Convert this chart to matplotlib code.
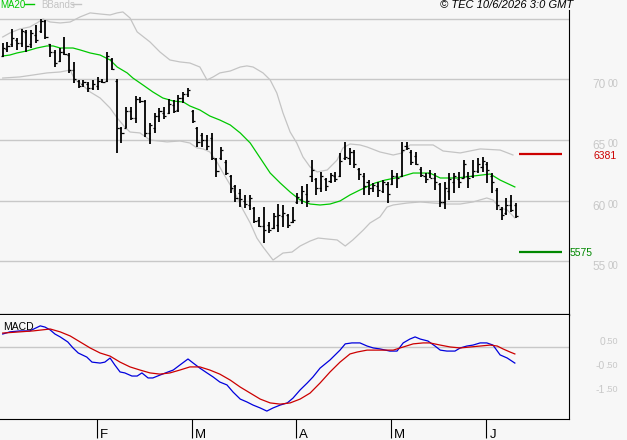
import numpy as np
import matplotlib
matplotlib.use("Agg")
import matplotlib.pyplot as plt
from matplotlib.lines import Line2D
from matplotlib.transforms import blended_transform_factory, offset_copy

plt.rcParams['font.family'] = ['Liberation Sans', 'DejaVu Sans']

# ---------------- data (daily OHLC, Jan -> Jun 2026) ----------------
opens = [7190, 7250, 7290, 7330, 7300, 7390, 7290, 7370, 7400, 7480,
         7290, 7230, 7150, 7230, 7200, 7080, 6990, 6960, 6960, 6930,
         6950, 6990, 6990, 7170, 6990, 6600, 6600, 6740, 6680, 6840,
         6820, 6560, 6600, 6700, 6720, 6720, 6790, 6750, 6850, 6880,
         6740, 6600, 6540, 6500, 6520, 6340, 6350, 6320, 6200, 6120,
         6060, 6000, 5960, 5940, 5840, 5790, 5800, 5770, 5800, 5870,
         5880, 5820, 5990, 6010, 6050, 6200, 6180, 6100, 6180, 6160,
         6200, 6200, 6350, 6350, 6400, 6260, 6200, 6150, 6100, 6120,
         6080, 6140, 6140, 6200, 6200, 6450, 6400, 6370, 6260, 6200,
         6230, 6190, 6140, 5990, 6080, 6150, 6180, 6190, 6200, 6200,
         6240, 6280, 6300, 6200, 6090, 5930, 5900, 5960, 5960]
highs = [7302, 7310, 7417, 7343, 7417, 7409, 7409, 7450, 7500, 7492,
         7293, 7244, 7260, 7351, 7219, 7145, 6996, 6996, 6979, 6996,
         7021, 7004, 7227, 7178, 7004, 6607, 6773, 6773, 6864, 6855,
         6831, 6641, 6723, 6764, 6773, 6839, 6831, 6872, 6897, 6930,
         6748, 6607, 6558, 6541, 6558, 6351, 6442, 6335, 6211, 6128,
         6095, 6046, 6046, 5946, 5864, 5946, 5822, 5897, 5971, 5963,
         5889, 5946, 6062, 6120, 6136, 6335, 6186, 6236, 6186, 6227,
         6236, 6393, 6484, 6434, 6417, 6269, 6227, 6169, 6145, 6153,
         6169, 6153, 6252, 6227, 6484, 6484, 6417, 6401, 6277, 6227,
         6252, 6227, 6145, 6153, 6227, 6227, 6236, 6335, 6236, 6335,
         6351, 6360, 6318, 6227, 6103, 5946, 6021, 6046, 5979]
lows = [7186, 7227, 7269, 7244, 7269, 7227, 7260, 7302, 7384, 7335,
        7186, 7103, 7145, 7202, 7054, 6971, 6930, 6938, 6897, 6913,
        6913, 6971, 6979, 7078, 6393, 6475, 6599, 6665, 6641, 6806,
        6525, 6467, 6558, 6649, 6674, 6715, 6723, 6731, 6806, 6855,
        6641, 6442, 6442, 6417, 6335, 6194, 6335, 6211, 6062, 5988,
        5946, 5938, 5922, 5814, 5781, 5649, 5732, 5765, 5740, 5781,
        5773, 5814, 5971, 5971, 5946, 6153, 6046, 6070, 6078, 6145,
        6153, 6194, 6335, 6293, 6269, 6169, 6046, 6046, 6070, 6029,
        6062, 5979, 6128, 6103, 6194, 6417, 6293, 6293, 6194, 6145,
        6186, 6087, 5946, 5930, 6004, 6062, 6103, 6186, 6103, 6186,
        6227, 6236, 6145, 6062, 5922, 5839, 5880, 5905, 5856]
closes = [7260, 7280, 7340, 7300, 7400, 7280, 7380, 7330, 7480, 7350,
          7230, 7140, 7230, 7210, 7080, 7000, 6950, 6975, 6930, 6960,
          6990, 6980, 7190, 7090, 6600, 6560, 6740, 6680, 6840, 6820,
          6560, 6620, 6700, 6740, 6700, 6800, 6740, 6850, 6880, 6910,
          6660, 6480, 6500, 6450, 6350, 6240, 6420, 6230, 6100, 6020,
          6010, 5970, 6020, 5830, 5790, 5760, 5760, 5870, 5880, 5900,
          5800, 5840, 6030, 6080, 6000, 6250, 6100, 6200, 6120, 6210,
          6180, 6330, 6360, 6400, 6300, 6220, 6120, 6100, 6130, 6090,
          6150, 6050, 6200, 6190, 6420, 6430, 6320, 6300, 6210, 6180,
          6190, 6150, 5990, 6100, 6180, 6200, 6150, 6300, 6190, 6240,
          6300, 6330, 6250, 6150, 5960, 5880, 5960, 5920, 5870]

# MA20 (bar index, value)
ma20_x = [0, 1.5, 3.0, 5.1, 7.2, 9.3, 10.6, 12.1, 13.5, 14.8, 16.3, 18.4, 20.5,
          22.6, 24.1, 26.2, 27.4, 29.5, 31.6, 33.7, 35.9, 38.0, 39.4, 41.5, 43.6,
          45.7, 47.9, 50.0, 52.1, 54.2, 56.3, 58.4, 60.5, 62.6, 64.7, 66.8, 68.9,
          71.0, 73.1, 75.2, 78.4, 80.5, 83.6, 86.4, 89.9, 92.1, 95.6, 99.0, 102.6,
          104.7, 107.8]
ma20_y = [7194, 7202, 7219, 7236, 7260, 7277, 7277, 7260, 7260, 7260, 7244, 7219, 7202,
          7161, 7103, 7054, 7012, 6955, 6897, 6847, 6822, 6814, 6781, 6748, 6698,
          6665, 6624, 6558, 6475, 6351, 6227, 6145, 6070, 6004, 5971, 5963, 5971,
          5996, 6046, 6087, 6145, 6169, 6194, 6227, 6227, 6186, 6186, 6202, 6219,
          6169, 6112]

# Bollinger upper band
bbu_x = [0, 1.5, 3.6, 5.7, 7.2, 8.5, 10.0, 12.1, 14.2, 16.3, 18.4, 20.5, 22.6, 24.1,
         25.3, 26.8, 28.3, 31.0, 33.1, 35.2, 37.3, 39.4, 41.5, 43.0, 44.3, 45.7,
         47.9, 50.0, 51.4, 52.7, 54.8, 56.3, 57.7, 59.0, 60.5, 61.9, 63.2, 64.7,
         66.2, 68.3, 70.4, 71.6, 73.1, 75.2, 76.7, 79.4, 82.2, 84.1, 85.7, 90.6,
         92.7, 96.3, 100.5, 104.7, 107.4]
bbu_y = [7351, 7384, 7417, 7434, 7467, 7500, 7475, 7467, 7475, 7517, 7550, 7541, 7533, 7550,
         7558, 7508, 7393, 7310, 7227, 7161, 7145, 7136, 7103, 6996, 7021, 7054,
         7070, 7103, 7112, 7103, 7054, 6996, 6888, 6723, 6566, 6475, 6360, 6277,
         6236, 6252, 6335, 6434, 6467, 6459, 6442, 6401, 6376, 6393, 6459, 6459,
         6409, 6393, 6426, 6417, 6376]

# Bollinger lower band
bbl_x = [0, 3.6, 6.4, 9.3, 12.1, 14.2, 15.2, 16.3, 18.4, 20.5, 22.6, 24.1, 25.7, 26.8,
         28.9, 31.0, 34.6, 37.3, 39.4, 40.9, 42.2, 43.6, 45.1, 46.4, 47.9, 49.3,
         50.6, 52.1, 53.5, 54.8, 56.9, 59.0, 60.9, 62.6, 64.7, 66.4, 68.3, 70.4,
         72.1, 73.7, 75.9, 77.3, 79.4, 80.9, 82.2, 85.1, 87.9, 90.6, 93.5, 96.3,
         99.0, 101.9, 103.2, 104.7, 106.2, 107.8]
bbl_y = [7012, 7021, 7037, 7054, 7062, 7078, 6996, 6971, 6897, 6847, 6764, 6682, 6607, 6566,
         6558, 6500, 6484, 6492, 6475, 6434, 6426, 6401, 6318, 6227, 6128, 6029,
         5922, 5814, 5690, 5616, 5508, 5566, 5574, 5624, 5665, 5690, 5682, 5674,
         5624, 5674, 5756, 5814, 5864, 5946, 5963, 5979, 5988, 5979, 5971, 5971,
         5988, 6021, 6004, 5938, 5922, 5856]

# MACD line
macd_x = [0, 1.5, 3.6, 5.7, 7.9, 8.9, 10.0, 11.0, 12.1, 13.7, 14.8, 15.9, 17.7, 18.8,
          20.5, 21.5, 22.6, 23.6, 24.7, 25.7, 27.2, 28.3, 29.3, 30.6, 31.6, 33.1,
          34.8, 35.9, 37.3, 39.0, 40.1, 41.5, 43.0, 44.3, 45.7, 47.2, 48.5, 50.0,
          51.4, 52.7, 54.2, 55.6, 56.9, 58.4, 59.9, 61.1, 62.6, 64.1, 65.3, 66.8,
          68.9, 71.0, 72.1, 73.5, 75.2, 76.7, 78.0, 79.4, 81.5, 83.0, 84.3, 85.7,
          86.8, 87.9, 89.5, 91.0, 92.1, 93.5, 95.2, 96.3, 97.7, 99.0, 100.5, 101.9,
          103.2, 104.7, 106.2, 107.8]
macd_y = [0.54, 0.63, 0.67, 0.67, 0.88, 0.83, 0.71, 0.54, 0.42, 0.21, -0.04, -0.25, -0.42, -0.63,
          -0.67, -0.63, -0.46, -0.75, -1.04, -1.08, -1.21, -1.21, -1.08, -1.29, -1.29, -1.17,
          -1.04, -0.96, -0.75, -0.50, -0.67, -0.88, -1.08, -1.25, -1.46, -1.58, -1.88, -2.17,
          -2.29, -2.42, -2.54, -2.67, -2.54, -2.42, -2.33, -2.13, -1.79, -1.50, -1.25, -0.88,
          -0.54, -0.13, 0.13, 0.17, 0.17, 0.04, -0.04, -0.08, -0.17, -0.17, 0.17, 0.33,
          0.42, 0.33, 0.25, 0.04, -0.13, -0.17, -0.17, -0.04, 0.04, 0.08, 0.17, 0.17,
          0.08, -0.33, -0.46, -0.67]

# Signal line
sig_x = [0, 3.6, 6.4, 10.0, 12.1, 14.2, 16.3, 18.4, 20.5, 22.6, 24.7, 26.8, 28.9, 31.0,
         33.1, 35.2, 37.3, 39.4, 41.5, 43.6, 45.7, 47.9, 50.0, 52.1, 54.2, 56.3,
         58.4, 60.5, 62.6, 64.7, 66.8, 68.9, 71.0, 73.1, 74.6, 76.7, 79.4, 82.2,
         84.3, 86.4, 88.5, 89.9, 92.1, 94.2, 96.3, 98.4, 100.5, 102.6, 104.1, 105.3,
         106.8, 107.8]
sig_y = [0.58, 0.63, 0.67, 0.75, 0.63, 0.46, 0.21, -0.04, -0.25, -0.38, -0.63, -0.83, -0.96, -1.08,
         -1.13, -1.08, -0.96, -0.83, -0.83, -0.96, -1.13, -1.38, -1.67, -1.92, -2.17, -2.33,
         -2.38, -2.33, -2.17, -1.92, -1.50, -1.04, -0.63, -0.29, -0.21, -0.13, -0.13, -0.13,
         0.0, 0.13, 0.17, 0.17, 0.08, 0.0, -0.04, 0.0, 0.04, 0.08, 0.04, -0.08,
         -0.21, -0.29]

price_grid = [5500, 6000, 6500, 7000, 7500]
price_labels = [5500, 6000, 6500, 7000]
macd_grid = [0]
macd_labels = [0.50, -0.50, -1.50]
month_starts = [20, 40, 62, 82, 102]
month_names = ['F', 'M', 'A', 'M', 'J']
levels = [6381, 5575]
level_colors = ['#cc0000', '#008800']
copyright_text = '\u00a9 TEC 10/6/2026 3:0 GMT'

# ---------------- style ----------------
W, H = 627, 440
BG = '#f7f7f7'
GRID = '#c8c8c8'
BAND = '#c4c4c4'
LBL = '#c8c8c8'
GREEN = '#00c800'


def fx(px):
    return px / W


def fy(py):
    return 1 - py / H


fig = plt.figure(figsize=(W / 100, H / 100), dpi=100, facecolor=BG)
ax = fig.add_axes([0, fy(315), fx(569), (315 - 10) / H], facecolor=BG)
ax2 = fig.add_axes([0, fy(419), fx(569), (419 - 315) / H], facecolor=BG)

xlo, xhi = -0.57, 119.2
ax.set_xlim(xlo, xhi)
ax2.set_xlim(xlo, xhi)
ax.set_ylim(5054, 7574)
ax2.set_ylim(-3.0, 1.333)

# grid
for g in price_grid:
    ax.axhline(g, color=GRID, lw=1.0, zorder=1)
for g in macd_grid:
    ax2.axhline(g, color=GRID, lw=1.0, zorder=1)

# bands & MA
ax.plot(bbu_x, bbu_y, color=BAND, lw=0.9, zorder=2)
ax.plot(bbl_x, bbl_y, color=BAND, lw=0.9, zorder=2)
ax.plot(ma20_x, ma20_y, color=GREEN, lw=0.9, zorder=3)

# OHLC bars
xs = np.arange(len(closes))
tick = 0.45
ax.vlines(xs, lows, highs, color='black', lw=1.3, zorder=4)
ax.hlines(opens, xs - tick, xs, color='black', lw=0.9, zorder=4)
ax.hlines(closes, xs, xs + tick, color='black', lw=0.9, zorder=4)

# levels
ytr = ax.get_yaxis_transform()
for lv, c in zip(levels, level_colors):
    ax.hlines(lv, 519 / 569, 562 / 569, transform=ytr, color=c, lw=1.6, zorder=5)
lab_tr = blended_transform_factory(fig.transFigure, ax.transData)
ax.text(fx(593), levels[0], str(levels[0]),
        transform=offset_copy(lab_tr, fig=fig, y=3, units='dots'),
        color=level_colors[0], fontsize=7.5, ha='left', va='top', clip_on=False)
ax.text(fx(570), levels[1], str(levels[1]),
        transform=offset_copy(lab_tr, fig=fig, y=-1, units='dots'),
        color=level_colors[1], fontsize=7.5, ha='left', va='center', clip_on=False)

# price labels (big + small digits), baseline placed below the grid line
big_tr = offset_copy(lab_tr, fig=fig, y=-9, units='dots')
small_tr = offset_copy(lab_tr, fig=fig, y=-7.5, units='dots')
for v in price_labels:
    s = str(v)
    ax.text(fx(606), v, s[:2], transform=big_tr, color=LBL, fontsize=8.5, ha='right',
            va='baseline', clip_on=False)
    ax.text(fx(618), v, s[2:], transform=small_tr, color=LBL, fontsize=7, ha='right',
            va='baseline', clip_on=False)

# MACD
ax2.plot(macd_x, macd_y, color='#0000dd', lw=0.9, zorder=3)
ax2.plot(sig_x, sig_y, color='#cc0000', lw=0.9, zorder=3)
mtr = offset_copy(blended_transform_factory(fig.transFigure, ax2.transData),
                  fig=fig, y=-2, units='dots')
for v in macd_labels:
    s = f"{v:.2f}"
    ip, dp = s.split('.')
    ax2.text(fx(605), v, ip, transform=mtr, color=LBL, fontsize=7.5, ha='right',
             va='top', clip_on=False)
    ax2.text(fx(618), v, '.' + dp, transform=mtr, color=LBL, fontsize=6.5, ha='right',
             va='top', clip_on=False)
ax2.text(fx(3), fy(322), 'MACD', transform=fig.transFigure, fontsize=7.5,
         color='black', ha='left', va='top')

# spines / ticks
for a in (ax, ax2):
    a.spines['left'].set_visible(False)
    a.spines['top'].set_visible(False)
    a.spines['right'].set_color('black')
    a.spines['right'].set_linewidth(0.8)
    a.set_yticks([])
ax.spines['bottom'].set_linewidth(1.6)
ax.spines['bottom'].set_color('black')
ax2.spines['bottom'].set_linewidth(0.8)
ax.set_xticks([])
mpos = np.array(month_starts) - 0.2
ax2.set_xticks(mpos)
ax2.set_xticklabels([])
ax2.tick_params(axis='x', direction='out', length=13.5, width=0.8, color='black')
mtr2 = offset_copy(blended_transform_factory(ax2.transData, fig.transFigure),
                   fig=fig, x=3, units='dots')
for p, n in zip(mpos, month_names):
    fig.text(p, fy(437.5), n, transform=mtr2, fontsize=9.5, ha='left',
             va='baseline', color='black')

# header legend
fig.text(fx(0), fy(0.5), 'MA20', color=GREEN, fontsize=7, ha='left', va='top')
fig.add_artist(Line2D([fx(25), fx(34)], [fy(4), fy(4)], color=GREEN, lw=1.0))
fig.text(fx(41), fy(0.5), 'BBands', color=BAND, fontsize=7, ha='left', va='top')
fig.add_artist(Line2D([fx(72), fx(81)], [fy(4), fy(4)], color=BAND, lw=1.0))
fig.text(fx(573), fy(0.5), copyright_text, color='black', fontsize=8,
         style='italic', ha='right', va='top')

fig.savefig('out.png', dpi=100, facecolor=BG)
